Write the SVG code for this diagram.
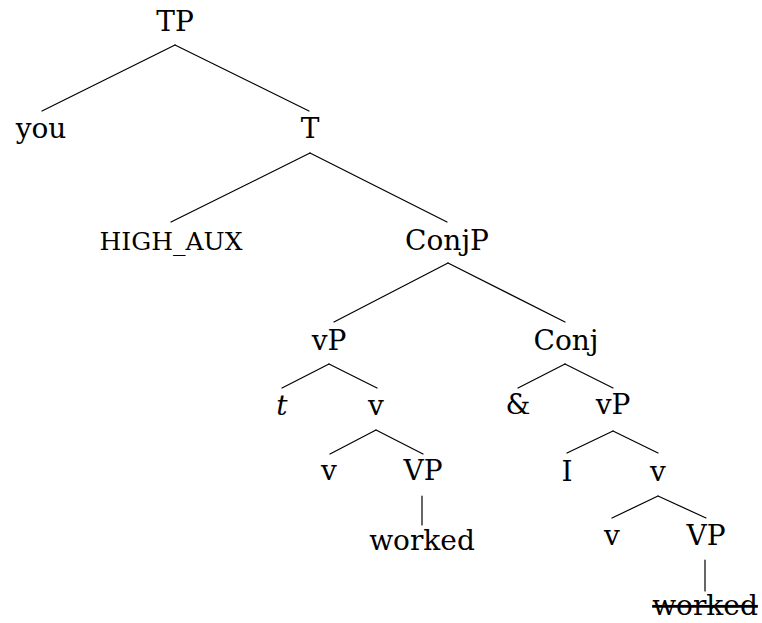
<svg xmlns="http://www.w3.org/2000/svg" width="762" height="623" viewBox="0 0 762 623">
<style>
text{font-family:"DejaVu Serif","Liberation Serif",serif;font-size:28px;fill:#000;text-anchor:middle}
.sc{font-size:25px}
.it{font-style:italic}
.strike{text-decoration:line-through}
#edges line{stroke:#000;stroke-width:1.2;stroke-linecap:round}
</style>
<rect width="762" height="623" fill="#fff"/>
<g id="edges">
<line x1="175" y1="45" x2="42" y2="111"/>
<line x1="175" y1="45" x2="309" y2="111"/>
<line x1="310" y1="153" x2="171" y2="222"/>
<line x1="310" y1="153" x2="447" y2="222"/>
<line x1="448" y1="263" x2="334" y2="322"/>
<line x1="448" y1="263" x2="565" y2="322"/>
<line x1="329" y1="364" x2="282" y2="388"/>
<line x1="329" y1="364" x2="377" y2="388"/>
<line x1="565" y1="364" x2="518" y2="388"/>
<line x1="565" y1="364" x2="613" y2="388"/>
<line x1="376" y1="430" x2="330" y2="454"/>
<line x1="376" y1="430" x2="423" y2="454"/>
<line x1="613" y1="431" x2="567" y2="453"/>
<line x1="613" y1="431" x2="658" y2="453"/>
<line x1="658" y1="496" x2="612" y2="518"/>
<line x1="658" y1="496" x2="706" y2="518"/>
<line x1="422" y1="496" x2="422" y2="525"/>
<line x1="705" y1="560" x2="705" y2="591"/>
</g>
<g id="n-TP"><text x="175" y="31">TP</text></g>
<g id="n-you"><text x="41" y="138">you</text></g>
<g id="n-T"><text x="310" y="138">T</text></g>
<g id="n-HIGH_AUX"><text class="sc" x="171" y="250">HIGH_AUX</text></g>
<g id="n-ConjP"><text x="447" y="250">ConjP</text></g>
<g id="n-vP1"><text x="329" y="350">vP</text></g>
<g id="n-Conj"><text x="566" y="350">Conj</text></g>
<g id="n-t"><text class="it" x="282" y="415">t</text></g>
<g id="n-v1"><text x="376" y="415">v</text></g>
<g id="n-amp"><text x="518" y="414">&amp;</text></g>
<g id="n-vP2"><text x="613" y="414">vP</text></g>
<g id="n-v2"><text x="329" y="480">v</text></g>
<g id="n-VP1"><text x="423" y="480">VP</text></g>
<g id="n-I"><text x="567" y="481">I</text></g>
<g id="n-v3"><text x="658" y="481">v</text></g>
<g id="n-worked1"><text x="422" y="550">worked</text></g>
<g id="n-v4"><text x="612" y="545">v</text></g>
<g id="n-VP2"><text x="706" y="545">VP</text></g>
<g id="n-worked2"><text class="strike" x="705" y="615">worked</text></g>
</svg>
